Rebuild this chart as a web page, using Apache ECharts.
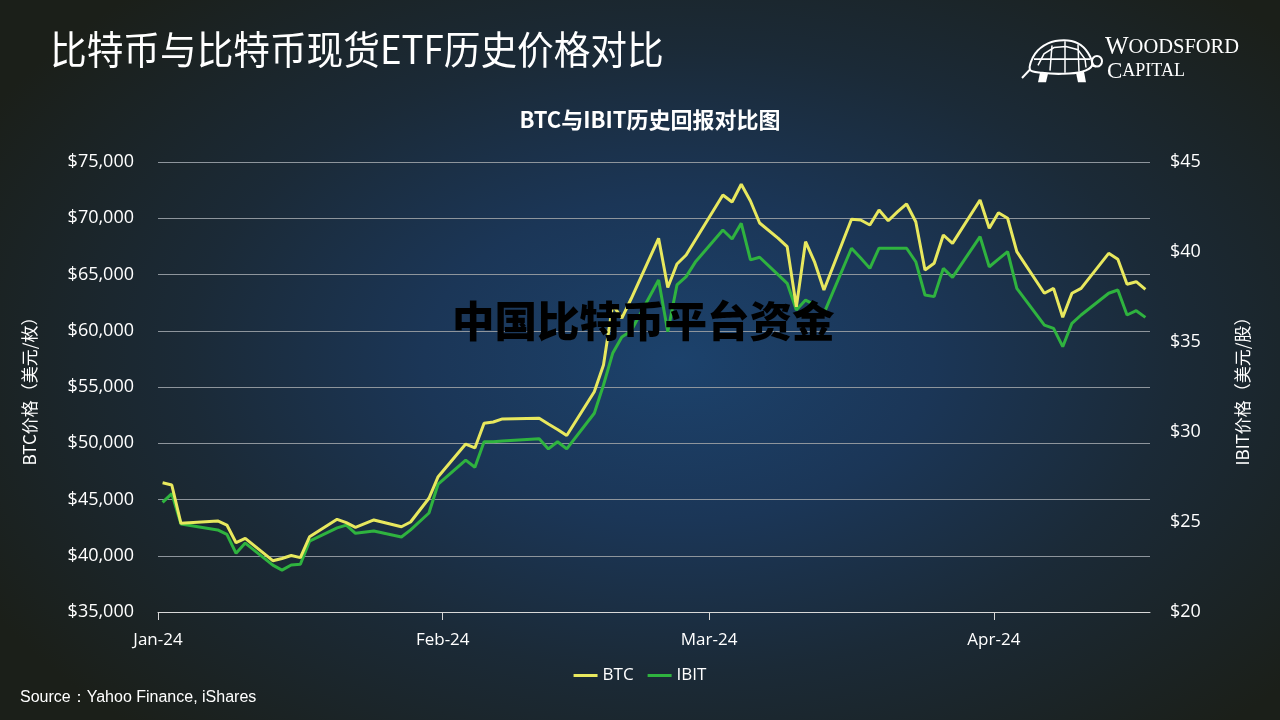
<!DOCTYPE html>
<html><head><meta charset="utf-8">
<script src="https://cdn.jsdelivr.net/npm/echarts@6/dist/echarts.min.js"></script>
<style>
html,body{margin:0;padding:0;width:1280px;height:720px;overflow:hidden;}
body{background: radial-gradient(ellipse 62% 70% at 53% 50%, #1c426c 0%, #1b3657 32%, #1b2a37 62%, #1b1f19 100%);}
#c{width:1280px;height:720px;}
</style></head><body><div id="c"></div>
<script>
const dates = ['2024-01-01','2024-01-02','2024-01-03','2024-01-07','2024-01-08','2024-01-09','2024-01-10','2024-01-13','2024-01-14','2024-01-15','2024-01-16','2024-01-17','2024-01-20','2024-01-21','2024-01-22','2024-01-24','2024-01-27','2024-01-28','2024-01-30','2024-01-31',
'2024-02-03','2024-02-04','2024-02-05','2024-02-06','2024-02-07','2024-02-11','2024-02-12','2024-02-13','2024-02-14','2024-02-17','2024-02-18','2024-02-19','2024-02-20','2024-02-21','2024-02-24','2024-02-25','2024-02-26','2024-02-27','2024-02-28',
'2024-03-02','2024-03-03','2024-03-04','2024-03-05','2024-03-06','2024-03-08','2024-03-09','2024-03-10','2024-03-11','2024-03-12','2024-03-13','2024-03-16','2024-03-17','2024-03-18','2024-03-19','2024-03-20','2024-03-21','2024-03-22','2024-03-23','2024-03-24','2024-03-25','2024-03-26','2024-03-27','2024-03-30','2024-03-31',
'2024-04-01','2024-04-02','2024-04-03','2024-04-06','2024-04-07','2024-04-08','2024-04-09','2024-04-10','2024-04-13','2024-04-14','2024-04-15','2024-04-16','2024-04-17'];
const btc = [46490,46290,42880,43090,42730,41160,41550,39560,39760,40020,39830,41690,43240,42940,42530,43180,42580,43000,45110,47030,
49930,49580,51770,51890,52160,52220,51710,51220,50690,54580,56960,62290,61130,62820,68220,63840,65930,66730,68070,
72070,71440,73020,71530,69580,68240,67470,62140,67920,66070,63620,69910,69840,69400,70730,69780,70560,71270,69690,65400,66000,68510,67770,71620,69110,
70490,70000,67030,63330,63770,61200,63330,63770,66880,66350,64130,64360,63680];
const ibit = [26.09,26.58,24.89,24.56,24.31,23.26,23.83,22.6,22.33,22.61,22.65,23.94,24.67,24.83,24.37,24.5,24.17,24.56,25.5,27.11,
28.44,28.04,29.46,29.46,29.5,29.62,29.06,29.46,29.06,31.04,32.61,34.37,35.28,35.61,38.44,35.57,38.17,38.63,39.44,
41.22,40.72,41.59,39.56,39.71,38.74,38.26,36.78,37.33,37.06,36.59,40.21,39.67,39.09,40.21,40.21,40.21,40.21,39.46,37.61,37.52,39.09,38.59,40.85,39.18,
39.6,40.02,37.98,35.94,35.76,34.74,36.04,36.5,37.71,37.89,36.5,36.74,36.37];
const monthTicks = ['2024-01-01','2024-02-01','2024-03-01','2024-04-01'];
const monthLabels = ['Jan-24','Feb-24','Mar-24','Apr-24'];
const axisStart = '2024-01-01';
const axisEnd = '2024-04-18';
const seriesNames = ['BTC','IBIT'];

function ts(s){const [y,m,d]=s.split('-').map(Number);return Date.UTC(y,m-1,d);}
const HALF_DAY = 12*3600*1000;
const monthTs = monthTicks.map(ts);
const btcData = dates.map((d,i)=>[ts(d)+HALF_DAY, btc[i]]);
const ibitData = dates.map((d,i)=>[ts(d)+HALF_DAY, ibit[i]]);

const chart = echarts.init(document.getElementById('c'), null, {renderer:'canvas'});
const labelFont = "'Open Sans', 'Noto Sans', sans-serif";
const cjk = "'Noto Sans CJK SC', sans-serif";
const W = '#ffffff';
const serifRich = {
  big: {fontFamily:"'Liberation Serif', serif", fontSize:23, fill:W, color:W},
  sm: {fontFamily:"'Liberation Serif', serif", fontSize:18, fill:W, color:W},
  big2: {fontFamily:"'Liberation Serif', serif", fontSize:25, fill:W, color:W},
  sm2: {fontFamily:"'Liberation Serif', serif", fontSize:20.5, fill:W, color:W}
};
chart.setOption({
  backgroundColor: 'transparent',
  animation: false,
  grid: {left:158, right:130, top:162, bottom:108},
  legend: {
    data: seriesNames, bottom: 31, left: 'center', icon:'rect', itemWidth: 24, itemHeight: 3, itemGap: 14,
    textStyle: {color:'#ffffff', fontSize:17, fontFamily: labelFont}
  },
  xAxis: {
    type:'value', min: ts(axisStart), max: ts(axisEnd), scale:true,
    axisLine: {show:true, lineStyle:{color:'#d8d8d8', width:1}},
    axisTick: {show:true, customValues: monthTs, length:8, lineStyle:{color:'#d8d8d8'}},
    axisLabel: {customValues: monthTs, color:'#ffffff', fontSize:17, fontFamily: labelFont, margin:20,
      formatter: v => { let k=0, best=Infinity; monthTs.forEach((t,i)=>{const dd=Math.abs(t-v); if(dd<best){best=dd;k=i;}}); return monthLabels[k]; }},
    splitLine: {show:false}
  },
  yAxis: [
    {type:'value', min:35000, max:75000, interval:5000, position:'left',
     name:'BTC价格（美元/枚）', nameLocation:'middle', nameRotate:90, nameGap:120,
     nameTextStyle:{color:'#ffffff', fontSize:17, fontFamily: cjk},
     axisLine:{show:false}, axisTick:{show:false},
     axisLabel:{color:'#ffffff', fontSize:18, fontFamily: labelFont, margin:24, formatter: v=>'$'+v.toLocaleString('en-US')},
     splitLine:{lineStyle:{color:'#8e959c', width:1}}},
    {type:'value', min:20, max:45, interval:5, position:'right',
     name:'IBIT价格（美元/股）', nameLocation:'middle', nameRotate:90, nameGap:84,
     nameTextStyle:{color:'#ffffff', fontSize:17, fontFamily: cjk},
     axisLine:{show:false}, axisTick:{show:false},
     axisLabel:{color:'#ffffff', fontSize:18, fontFamily: labelFont, margin:20, formatter: v=>'$'+v},
     splitLine:{show:false}}
  ],
  series: [
    {name: seriesNames[0], type:'line', yAxisIndex:0, data: btcData, symbol:'none', lineStyle:{color:'#e8e85e', width:3}, itemStyle:{color:'#e8e85e'}, z:3},
    {name: seriesNames[1], type:'line', yAxisIndex:1, data: ibitData, symbol:'none', lineStyle:{color:'#2fb33f', width:3}, itemStyle:{color:'#2fb33f'}, z:2}
  ],
  graphic: [
    {type:'text', x:50, y:30, scaleX:0.94, style:{text:'比特币与比特币现货ETF历史价格对比', fill:W, font:"39px 'Noto Sans CJK SC', sans-serif"}},
    {type:'text', x:650, y:109, style:{text:'BTC与IBIT历史回报对比图', fill:W, align:'center', font:"bold 22px 'Noto Sans CJK SC', sans-serif"}},
    {type:'text', left:20, top:690, style:{text:'Source：Yahoo Finance, iShares', fill:W, font:"16px 'Liberation Sans', Arial, sans-serif"}},
    {type:'text', left:452, top:300, z:100, style:{text:'中国比特币平台资金', fill:'#000000', font:"900 42.5px 'Noto Sans CJK SC', sans-serif"}},
    {type:'text', left:1105, top:35, style:{text:'{big2|W}{sm2|OODSFORD}', rich: serifRich}},
    {type:'text', left:1107, top:60, style:{text:'{big|C}{sm|APITAL}', rich: serifRich}},
    {type:'group', x:1022, y:36, scaleX:1.0, scaleY:1.05, children:[
      {type:'polygon', shape:{points:[[8,32],[13,17],[26,7],[42,4],[56,7],[66,16],[70,28],[60,34],[40,36],[20,35]], smooth:0.35}, style:{fill:'none', stroke:W, lineWidth:2}},
      {type:'polyline', shape:{points:[[16,28],[22,17],[32,11],[44,10],[56,13],[63,22],[64,30]]}, style:{fill:'none', stroke:W, lineWidth:1.5}},
      {type:'line', shape:{x1:30, y1:9, x2:28, y2:33}, style:{stroke:W, lineWidth:1.5}},
      {type:'line', shape:{x1:43, y1:5, x2:43, y2:35}, style:{stroke:W, lineWidth:1.5}},
      {type:'line', shape:{x1:56, y1:8, x2:57, y2:34}, style:{stroke:W, lineWidth:1.5}},
      {type:'line', shape:{x1:12, y1:22, x2:68, y2:22}, style:{stroke:W, lineWidth:1.5}},
      {type:'circle', shape:{cx:75, cy:24, r:5}, style:{fill:'none', stroke:W, lineWidth:2}},
      {type:'line', shape:{x1:70, y1:28, x2:74, y2:29}, style:{stroke:W, lineWidth:2}},
      {type:'line', shape:{x1:8, y1:32, x2:0, y2:40}, style:{stroke:W, lineWidth:2}},
      {type:'polygon', shape:{points:[[18,35],[16,44],[24,44],[26,36]]}, style:{fill:W}},
      {type:'polygon', shape:{points:[[54,35],[56,44],[64,44],[62,34]]}, style:{fill:W}}
    ]}
  ]
});
</script></body></html>
